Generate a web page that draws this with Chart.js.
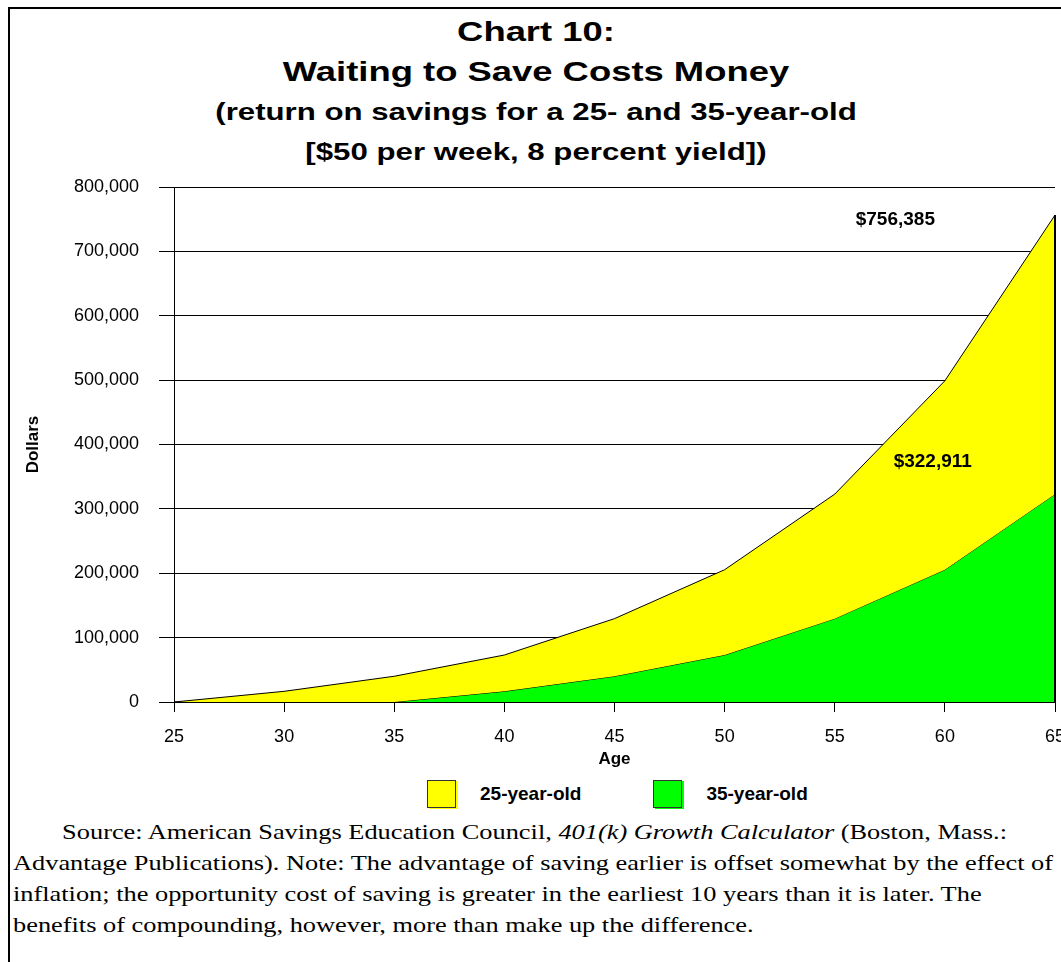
<!DOCTYPE html>
<html>
<head>
<meta charset="utf-8">
<title>Chart 10: Waiting to Save Costs Money</title>
<script src="https://cdn.jsdelivr.net/npm/chart.js@4.4.1/dist/chart.umd.min.js"></script>
<style>
    html, body { margin: 0; padding: 0; background: #fff; overflow: hidden; }
    body { width: 1061px; height: 962px; position: relative; font-family: "Liberation Sans", Arial, sans-serif; color: #000; }
    .frame-top { position: absolute; left: 8px; top: 7px; width: 1053px; height: 2px; background: #000; }
    .frame-left { position: absolute; left: 8px; top: 7px; width: 2px; height: 955px; background: #000; }
    .title { position: absolute; left: 0; top: 12px; width: 1072px; text-align: center; font-weight: bold;
             line-height: 40px; white-space: nowrap; transform: scaleX(1.3); transform-origin: 536px 0; }
    .title .big { font-size: 28px; }
    .title .small { font-size: 24px; }
    #chartBox { position: absolute; left: 0; top: 170px; width: 1061px; height: 600px; }
    #legend { position: absolute; left: 427px; top: 780px; height: 28px; display: flex; align-items: center; }
    #legend .item { display: flex; align-items: center; margin-right: 72px; }
    #legend .swatch { width: 27px; height: 26px; border: 1px solid #333; margin-right: 24px; }
    #legend .label { font-weight: bold; font-size: 19px; }
    .note { position: absolute; left: 13px; top: 816px; font-family: "Liberation Serif", "Times New Roman", serif;
            font-size: 22px; line-height: 31px; white-space: nowrap; transform: scaleX(1.198); transform-origin: 0 0; }
    .note .indent { padding-left: 41px; }
</style>
</head>
<body>
<div class="frame-top"></div>
<div class="frame-left"></div>

<div class="title">
    <div class="big">Chart 10:</div>
    <div class="big">Waiting to Save Costs Money</div>
    <div class="small">(return on savings for a 25- and 35-year-old</div>
    <div class="small">[$50 per week, 8 percent yield])</div>
</div>

<div id="chartBox"><canvas id="savingsChart"></canvas></div>
<div id="legend"></div>

<div class="note">
    <span class="indent">Source: American Savings Education Council, <i>401(k) Growth Calculator</i> (Boston, Mass.:</span><br>
    Advantage Publications). Note: The advantage of saving earlier is offset somewhat by the effect of<br>
    inflation; the opportunity cost of saving is greater in the earliest 10 years than it is later. The<br>
    benefits of compounding, however, more than make up the difference.
</div>

<script>
// Values
const ages = [25, 30, 35, 40, 45, 50, 55, 60, 65];
const start25 = [0, 16600, 40000, 73000, 129500, 205500, 322911, 499000, 756385];
const start35 = [0, 0, 0, 16600, 40000, 73000, 129500, 205500, 322911];
const seriesNames = ['25-year-old', '35-year-old'];
const seriesColors = ['#ffff00', '#00ff00'];
const ageTicks = [25, 30, 35, 40, 45, 50, 55, 60, 65];
const dollarTicks = [0, 100000, 200000, 300000, 400000, 500000, 600000, 700000, 800000];

const FONT = '"Liberation Sans", Arial, sans-serif';
Chart.defaults.font.family = FONT;
Chart.defaults.color = '#000';

const toPoints = values => ages.map((a, i) => ({ x: a, y: values[i] }));

// closing edge at age 65 and the two end-value callouts
const edgeAndCallouts = {
    id: 'edgeAndCallouts',
    afterDatasetsDraw(chart) {
        const { ctx, scales: { x, y } } = chart;
        const last = ages.length - 1;
        const px = x.getPixelForValue(ages[last]);
        ctx.save();
        ctx.strokeStyle = '#000';
        ctx.lineWidth = 2;
        ctx.beginPath();
        ctx.moveTo(px, y.getPixelForValue(0));
        ctx.lineTo(px, y.getPixelForValue(start25[last]));
        ctx.stroke();

        ctx.font = 'bold 19px ' + FONT;
        ctx.fillStyle = '#000';
        ctx.textAlign = 'center';
        ctx.textBaseline = 'middle';
        ctx.fillText('$' + start25[last].toLocaleString('en-US'), x.getPixelForValue(57.75), y.getPixelForValue(749000));
        ctx.fillText('$' + start35[last].toLocaleString('en-US'), x.getPixelForValue(59.45), y.getPixelForValue(373000));
        ctx.restore();
    }
};

function buildLegend(chart) {
    const box = document.getElementById('legend');
    box.innerHTML = '';
    chart.data.datasets.forEach(ds => {
        const item = document.createElement('div');
        item.className = 'item';
        const sw = document.createElement('span');
        sw.className = 'swatch';
        sw.style.background = ds.backgroundColor;
        sw.style.boxShadow = '2px 1px 0 ' + ds.backgroundColor;
        const lab = document.createElement('span');
        lab.className = 'label';
        lab.textContent = ds.label;
        item.appendChild(sw);
        item.appendChild(lab);
        box.appendChild(item);
    });
}

const ctx = document.getElementById('savingsChart').getContext('2d');
const savingsChart = new Chart(ctx, {
    type: 'line',
    data: {
        datasets: [
            { label: seriesNames[0], data: toPoints(start25), backgroundColor: seriesColors[0], borderColor: '#000', borderWidth: 1, fill: '+1' },
            { label: seriesNames[1], data: toPoints(start35), backgroundColor: seriesColors[1], borderColor: '#000', borderWidth: 1, fill: 'origin' }
        ]
    },
    options: {
        responsive: true,
        maintainAspectRatio: false,
        animation: false,
        elements: { point: { radius: 0 }, line: { tension: 0 } },
        layout: { padding: { top: 17, right: 6, left: 0, bottom: 0 } },
        scales: {
            x: {
                type: 'linear', min: 25, max: 65,
                afterBuildTicks: s => { s.ticks = ageTicks.map(v => ({ value: v })); },
                afterFit: s => { s.paddingRight = 0; s.paddingLeft = 0; },
                grid: { drawOnChartArea: false, tickLength: 10, color: '#000' },
                border: { color: '#000', width: 1 },
                ticks: { font: { size: 18 }, padding: 14, maxRotation: 0, autoSkip: false },
                title: { display: true, text: 'Age', font: { size: 17, weight: 'bold' }, padding: { top: -12, bottom: 0 } }
            },
            y: {
                min: 0, max: 800000,
                afterBuildTicks: s => { s.ticks = dollarTicks.map(v => ({ value: v })); },
                afterFit: s => { s.width = 174; s.paddingTop = 0; s.paddingBottom = 0; },
                grid: { color: '#000', lineWidth: 1, tickLength: 15 },
                border: { color: '#000', width: 1 },
                ticks: { font: { size: 18 }, padding: 20, callback: v => v.toLocaleString('en-US') },
                title: { display: true, text: 'Dollars', font: { size: 17, weight: 'bold' }, padding: { top: 23, bottom: 0 } }
            }
        },
        plugins: {
            legend: { display: false },
            tooltip: { enabled: false }
        }
    },
    plugins: [edgeAndCallouts]
});

buildLegend(savingsChart);
</script>
</body>
</html>
